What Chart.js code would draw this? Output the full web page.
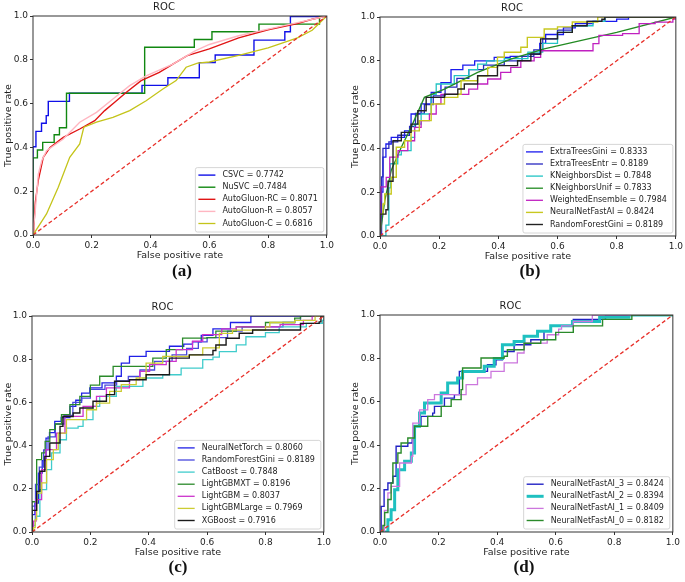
<!DOCTYPE html>
<html>
<head>
<meta charset="utf-8">
<script src="https://cdn.jsdelivr.net/npm/chart.js@4.4.1/dist/chart.umd.min.js"></script>
<style>
  body { margin: 0; background: #fff; }
  #wrap { position: relative; width: 685px; height: 582px; overflow: hidden; }
  canvas { position: absolute; }
  .cap { position: absolute; font: bold 17px "Liberation Serif", serif; color: #111; transform: translateX(-50%); }
</style>
</head>
<body>
<div id="wrap">
  <canvas id="ca" width="336" height="264" style="left:0px;top:0px"></canvas>
  <canvas id="cb" width="338" height="264" style="left:347px;top:1px"></canvas>
  <canvas id="cc" width="333" height="261" style="left:0px;top:300px"></canvas>
  <canvas id="cd" width="335" height="262" style="left:347px;top:299px"></canvas>
  <div class="cap" style="left:182px;top:261px">(a)</div>
  <div class="cap" style="left:530px;top:261px">(b)</div>
  <div class="cap" style="left:178px;top:557px">(c)</div>
  <div class="cap" style="left:524px;top:557px">(d)</div>
</div>
<script>
// chance line
const chance = [[0, 0], [1, 1]];
const tickValues = [0, 0.2, 0.4, 0.6, 0.8, 1.0];

// (a)
const labelsA = ['CSVC = 0.7742', 'NuSVC =0.7484', 'AutoGluon-RC = 0.8071', 'AutoGluon-R = 0.8057', 'AutoGluon-C = 0.6816'];
const csvc = [[0,0],[0,0.403],[0.01,0.473],[0.029,0.51],[0.045,0.545],[0.052,0.61],[0.124,0.647],[0.371,0.683],[0.459,0.718],[0.566,0.787],[0.62,0.822],[0.752,0.89],[0.857,0.928],[0.876,0.997],[1,1]];
const nusvc = [[0,0],[0,0.352],[0.015,0.388],[0.033,0.423],[0.072,0.458],[0.09,0.49],[0.114,0.647],[0.38,0.857],[0.549,0.893],[0.609,0.928],[0.769,0.963],[0.965,0.963],[0.975,1.0],[1,1]];
const agRC = [[0,0],[0.003,0.04],[0.008,0.15],[0.018,0.25],[0.035,0.355],[0.058,0.4],[0.103,0.446],[0.159,0.484],[0.21,0.522],[0.244,0.568],[0.278,0.606],[0.318,0.652],[0.368,0.705],[0.43,0.743],[0.476,0.78],[0.525,0.819],[0.6,0.85],[0.7,0.9],[0.8,0.937],[0.9,0.966],[0.95,0.985],[1,1]];
const agR = [[0,0],[0.003,0.05],[0.007,0.1],[0.018,0.278],[0.03,0.34],[0.046,0.385],[0.103,0.438],[0.159,0.515],[0.216,0.56],[0.272,0.621],[0.329,0.682],[0.385,0.727],[0.476,0.78],[0.55,0.84],[0.6,0.87],[0.7,0.91],[0.8,0.94],[0.9,0.97],[1,1]];
const agC = [[0,0],[0.046,0.096],[0.086,0.218],[0.125,0.355],[0.159,0.416],[0.173,0.492],[0.216,0.515],[0.272,0.537],[0.329,0.568],[0.385,0.613],[0.442,0.667],[0.487,0.705],[0.521,0.766],[0.56,0.785],[0.6,0.79],[0.7,0.82],[0.8,0.855],[0.9,0.9],[0.95,0.935],[1,1]];

// (b)
const labelsB = ['ExtraTreesGini = 0.8333', 'ExtraTreesEntr = 0.8189', 'KNeighborsDist = 0.7848', 'KNeighborsUnif = 0.7833', 'WeightedEnsemble = 0.7984', 'NeuralNetFastAI = 0.8424', 'RandomForestGini = 0.8189'];
const etGini = [[0,0],[0.005,0.2],[0.01,0.36],[0.02,0.42],[0.038,0.45],[0.083,0.48],[0.105,0.557],[0.139,0.603],[0.173,0.656],[0.206,0.7],[0.24,0.76],[0.28,0.78],[0.32,0.8],[0.386,0.816],[0.44,0.82],[0.5,0.83],[0.54,0.88],[0.56,0.92],[0.62,0.95],[0.66,0.97],[0.72,0.98],[0.8,0.99],[0.84,1.0],[1,1]];
const etEntr = [[0,0],[0.005,0.27],[0.01,0.4],[0.03,0.43],[0.06,0.46],[0.1,0.5],[0.12,0.56],[0.15,0.6],[0.18,0.64],[0.22,0.68],[0.26,0.72],[0.3,0.76],[0.35,0.78],[0.42,0.8],[0.48,0.82],[0.52,0.85],[0.55,0.9],[0.6,0.94],[0.65,0.96],[0.7,0.98],[0.76,1.0],[1,1]];
const knDist = [[0,0],[0.02,0.05],[0.03,0.22],[0.035,0.33],[0.06,0.37],[0.072,0.39],[0.105,0.45],[0.117,0.511],[0.139,0.557],[0.173,0.647],[0.19,0.694],[0.251,0.732],[0.3,0.76],[0.33,0.785],[0.36,0.8],[0.42,0.81],[0.5,0.84],[0.55,0.88],[0.6,0.93],[0.65,0.96],[0.72,0.98],[0.76,1.0],[1,1]];
const knUnif = [[0,0],[0.016,0.16],[0.038,0.3],[0.072,0.405],[0.105,0.496],[0.15,0.633],[0.218,0.671],[0.33,0.747],[0.442,0.808],[0.555,0.854],[0.8,0.93],[1,1]];
const weighted = [[0,0],[0.002,0.16],[0.003,0.224],[0.021,0.268],[0.033,0.36],[0.061,0.39],[0.094,0.435],[0.117,0.496],[0.139,0.527],[0.167,0.557],[0.19,0.603],[0.206,0.647],[0.3,0.671],[0.33,0.694],[0.364,0.717],[0.408,0.747],[0.442,0.77],[0.476,0.8],[0.521,0.816],[0.543,0.846],[0.72,0.878],[0.74,0.916],[0.82,0.924],[0.876,0.97],[0.93,0.977],[0.99,0.99],[1,1]];
const nnFast = [[0,0],[0,0.1],[0.01,0.146],[0.016,0.192],[0.038,0.268],[0.055,0.405],[0.083,0.435],[0.105,0.48],[0.133,0.527],[0.173,0.603],[0.218,0.633],[0.263,0.647],[0.274,0.709],[0.33,0.732],[0.364,0.77],[0.397,0.816],[0.42,0.839],[0.476,0.862],[0.498,0.907],[0.555,0.945],[0.6,0.955],[0.65,0.977],[0.736,1.0],[1,1]];
const rfGiniB = [[0,0],[0,0.1],[0.02,0.12],[0.027,0.25],[0.044,0.435],[0.072,0.473],[0.105,0.511],[0.128,0.572],[0.156,0.633],[0.218,0.647],[0.263,0.671],[0.285,0.694],[0.33,0.732],[0.397,0.778],[0.465,0.8],[0.51,0.831],[0.543,0.9],[0.6,0.93],[0.65,0.96],[0.7,0.98],[0.75,0.99],[0.76,1.0],[1,1]];

// (c)
const labelsC = ['NeuralNetTorch = 0.8060', 'RandomForestGini = 0.8189', 'CatBoost = 0.7848', 'LightGBMXT = 0.8196', 'LightGBM = 0.8037', 'LightGBMLarge = 0.7969', 'XGBoost = 0.7916'];
const nnTorch = [[0,0],[0,0.08],[0.01,0.134],[0.022,0.273],[0.035,0.33],[0.048,0.435],[0.06,0.46],[0.078,0.512],[0.1,0.53],[0.13,0.582],[0.15,0.61],[0.17,0.643],[0.198,0.667],[0.24,0.69],[0.289,0.721],[0.306,0.782],[0.334,0.813],[0.391,0.836],[0.471,0.86],[0.52,0.87],[0.55,0.88],[0.58,0.91],[0.62,0.94],[0.68,0.97],[0.75,1.0],[1,1]];
const rfGiniC = [[0,0],[0,0.12],[0.012,0.22],[0.025,0.3],[0.04,0.38],[0.055,0.44],[0.08,0.5],[0.11,0.54],[0.14,0.6],[0.17,0.62],[0.2,0.66],[0.25,0.68],[0.29,0.7],[0.33,0.72],[0.37,0.75],[0.42,0.79],[0.48,0.82],[0.53,0.85],[0.57,0.88],[0.6,0.9],[0.67,0.93],[0.72,0.95],[0.86,0.97],[0.9,0.98],[0.92,1.0],[1,1]];
const catBoost = [[0,0],[0.005,0.03],[0.011,0.073],[0.027,0.196],[0.05,0.289],[0.067,0.366],[0.096,0.427],[0.118,0.481],[0.158,0.489],[0.175,0.52],[0.209,0.582],[0.232,0.628],[0.289,0.674],[0.38,0.713],[0.448,0.728],[0.511,0.759],[0.585,0.798],[0.62,0.81],[0.642,0.835],[0.7,0.866],[0.733,0.904],[0.8,0.923],[0.847,0.95],[0.94,0.966],[0.995,0.98],[1,1]];
const lgbmXT = [[0,0],[0,0.14],[0.016,0.335],[0.033,0.366],[0.045,0.42],[0.061,0.474],[0.08,0.5],[0.101,0.543],[0.13,0.59],[0.164,0.628],[0.2,0.68],[0.232,0.721],[0.278,0.767],[0.369,0.767],[0.414,0.805],[0.46,0.844],[0.516,0.898],[0.6,0.9],[0.63,0.93],[0.7,0.95],[0.8,0.97],[0.9,0.99],[0.92,1.0],[1,1]];
const lgbm = [[0,0],[0.005,0.05],[0.014,0.15],[0.033,0.289],[0.048,0.381],[0.084,0.458],[0.113,0.535],[0.175,0.582],[0.221,0.628],[0.255,0.667],[0.334,0.705],[0.369,0.744],[0.403,0.775],[0.46,0.79],[0.494,0.844],[0.55,0.883],[0.585,0.914],[0.65,0.94],[0.7,0.95],[0.85,0.96],[0.93,0.98],[0.96,1.0],[1,1]];
const lgbmLarge = [[0,0],[0.005,0.02],[0.011,0.057],[0.016,0.18],[0.033,0.227],[0.05,0.335],[0.073,0.381],[0.09,0.458],[0.118,0.52],[0.187,0.566],[0.221,0.597],[0.266,0.651],[0.306,0.682],[0.357,0.713],[0.391,0.782],[0.448,0.813],[0.539,0.82],[0.585,0.852],[0.642,0.92],[0.687,0.935],[0.8,0.95],[0.815,0.97],[0.9,0.98],[0.97,1.0],[1,1]];
const xgb = [[0,0],[0,0.1],[0.016,0.188],[0.027,0.281],[0.044,0.35],[0.061,0.412],[0.096,0.489],[0.106,0.535],[0.141,0.551],[0.164,0.574],[0.209,0.605],[0.255,0.636],[0.283,0.698],[0.334,0.705],[0.391,0.728],[0.471,0.805],[0.539,0.82],[0.62,0.84],[0.63,0.866],[0.665,0.897],[0.71,0.92],[0.756,0.935],[0.92,0.966],[0.984,0.973],[0.99,1.0],[1,1]];

// (d)
const labelsD = ['NeuralNetFastAI_3 = 0.8424', 'NeuralNetFastAI_2 = 0.8394', 'NeuralNetFastAI_1 = 0.8409', 'NeuralNetFastAI_0 = 0.8182'];
const nf3 = [[0,0],[0.004,0.118],[0.014,0.195],[0.027,0.226],[0.044,0.257],[0.055,0.395],[0.095,0.41],[0.11,0.425],[0.118,0.487],[0.14,0.533],[0.18,0.548],[0.186,0.579],[0.22,0.617],[0.254,0.633],[0.271,0.74],[0.367,0.771],[0.396,0.794],[0.418,0.832],[0.458,0.863],[0.515,0.886],[0.56,0.925],[0.583,0.95],[0.66,0.98],[0.77,1.0],[1,1]];
const nf2 = [[0,0],[0.02,0],[0.027,0.057],[0.038,0.103],[0.05,0.195],[0.061,0.287],[0.084,0.326],[0.107,0.364],[0.118,0.487],[0.135,0.548],[0.152,0.594],[0.209,0.64],[0.231,0.687],[0.265,0.71],[0.282,0.74],[0.356,0.764],[0.39,0.8],[0.418,0.863],[0.458,0.878],[0.492,0.902],[0.538,0.925],[0.583,0.95],[0.657,0.97],[0.75,0.99],[0.85,1.0],[1,1]];
const nf1 = [[0,0],[0.015,0.1],[0.027,0.18],[0.038,0.21],[0.067,0.318],[0.107,0.349],[0.112,0.502],[0.135,0.563],[0.163,0.61],[0.186,0.633],[0.294,0.679],[0.333,0.71],[0.379,0.74],[0.424,0.779],[0.469,0.825],[0.492,0.87],[0.571,0.909],[0.61,0.935],[0.62,0.95],[0.66,0.97],[0.725,1.0],[1,1]];
const nf0 = [[0,0],[0.01,0.03],[0.016,0.09],[0.027,0.15],[0.038,0.226],[0.044,0.318],[0.061,0.364],[0.072,0.41],[0.095,0.433],[0.118,0.487],[0.163,0.533],[0.209,0.579],[0.243,0.61],[0.277,0.656],[0.282,0.756],[0.345,0.802],[0.424,0.81],[0.435,0.84],[0.492,0.87],[0.549,0.886],[0.6,0.92],[0.66,0.95],[0.76,0.98],[0.86,1.0],[1,1]];

const FONT = 'DejaVu Sans';
const INK = '#1e1e1e';

// box around the axes, like matplotlib spines
const frame = {
  id: 'frame',
  afterDatasetsDraw(chart) {
    const { ctx, chartArea: a } = chart;
    ctx.save();
    ctx.strokeStyle = '#333';
    ctx.lineWidth = 1;
    ctx.strokeRect(a.left, a.top, a.right - a.left, a.bottom - a.top);
    ctx.restore();
  }
};

// legend inside the axes, lower right
const boxLegend = {
  id: 'boxLegend',
  afterDraw(chart, args, opts) {
    const { ctx, chartArea: a } = chart;
    const items = chart.data.datasets.filter(d => d.label);
    const rowH = opts.rowH || 12.1;
    ctx.save();
    ctx.font = '8px "' + FONT + '"';
    const tw = Math.max(...items.map(d => ctx.measureText(d.label).width));
    const w = 27 + tw + 6;
    const h = (items.length - 1) * rowH + 16;
    const x = a.right - 3 - w, y = a.bottom - 3 - h;
    ctx.fillStyle = 'rgba(255,255,255,0.85)';
    ctx.strokeStyle = '#cccccc';
    ctx.lineWidth = 0.8;
    ctx.beginPath();
    ctx.roundRect(x, y, w, h, 2);
    ctx.fill();
    ctx.stroke();
    ctx.textBaseline = 'middle';
    items.forEach((d, i) => {
      const cy = y + 7.5 + i * rowH;
      ctx.strokeStyle = d.borderColor;
      ctx.lineWidth = d.borderWidth;
      ctx.beginPath();
      ctx.moveTo(x + 3, cy);
      ctx.lineTo(x + 20, cy);
      ctx.stroke();
      ctx.fillStyle = INK;
      ctx.fillText(d.label, x + 27, cy);
    });
    ctx.restore();
  }
};

function axis(titleText, vertical, size) {
  return {
    type: 'linear', min: 0, max: 1,
    afterBuildTicks: s => { s.ticks = tickValues.map(v => ({ value: v })); },
    afterFit: s => { if (vertical) s.width = size; else s.height = size; },
    ticks: { font: { family: FONT, size: 9 }, color: INK, padding: 2, callback: v => v.toFixed(1) },
    grid: { drawOnChartArea: false, drawTicks: true, tickLength: 3, color: '#333' },
    border: { display: false },
    title: { display: true, text: titleText, color: INK, font: { family: FONT, size: 9.5, lineHeight: 1.2 }, padding: { top: 3, bottom: 3 } }
  };
}

function drawPanel(id, labels, curves, colors, widths, steps, yWidth) {
  const datasets = curves.map((c, i) => ({
    label: labels[i],
    data: c.map(p => ({ x: p[0], y: p[1] })),
    borderColor: colors[i],
    borderWidth: widths[i],
    // horizontal run first, then the rise (ROC step)
    stepped: steps[i] ? 'before' : false,
    pointRadius: 0,
    fill: false,
    tension: 0,
    order: -i
  }));
  datasets.push({
    label: '',
    data: chance.map(p => ({ x: p[0], y: p[1] })),
    borderColor: '#e8302a',
    borderWidth: 1.3,
    borderDash: [4, 2.5],
    pointRadius: 0,
    order: -99
  });
  new Chart(document.getElementById(id), {
    type: 'line',
    data: { datasets },
    options: {
      responsive: false,
      animation: false,
      devicePixelRatio: 1,
      layout: { padding: { left: 0, right: 8, top: 0, bottom: 0 } },
      plugins: {
        legend: { display: false },
        tooltip: { enabled: false },
        title: { display: true, text: 'ROC', color: INK, font: { family: FONT, size: 10, weight: 'normal', lineHeight: 1.2 }, padding: { top: 1, bottom: 3 } },
        boxLegend: {}
      },
      scales: {
        x: axis('False positive rate', false, 29),
        y: axis('True positive rate', true, yWidth)
      }
    },
    plugins: [frame, boxLegend]
  });
}

drawPanel('ca', labelsA, [csvc, nusvc, agRC, agR, agC],
  ['#1010e8', '#118811', '#e01515', '#ffb6c1', '#c4c41a'],
  [1.4, 1.4, 1.4, 1.4, 1.3], [true, true, false, false, false], 33);

drawPanel('cb', labelsB, [etGini, etEntr, knDist, knUnif, weighted, nnFast, rfGiniB],
  ['#1a1aee', '#2828c0', '#22c4c4', '#228b22', '#c020c0', '#c8c820', '#222222'],
  [1.3, 1.3, 1.3, 1.3, 1.3, 1.4, 1.4], [true, true, true, false, true, true, true], 33);

drawPanel('cc', labelsC, [nnTorch, rfGiniC, catBoost, lgbmXT, lgbm, lgbmLarge, xgb],
  ['#2020e6', '#4848dd', '#40cccc', '#2a8a2a', '#cc33cc', '#cccc33', '#1a1a1a'],
  [1.3, 1.3, 1.3, 1.3, 1.3, 1.3, 1.4], [true, true, true, true, true, true, true], 32);

drawPanel('cd', labelsD, [nf3, nf2, nf1, nf0],
  ['#2222c4', '#1fc0c0', '#cc77dd', '#2a8a2a'],
  [1.4, 3, 1.3, 1.4], [true, true, true, true], 33);
</script>
</body>
</html>
